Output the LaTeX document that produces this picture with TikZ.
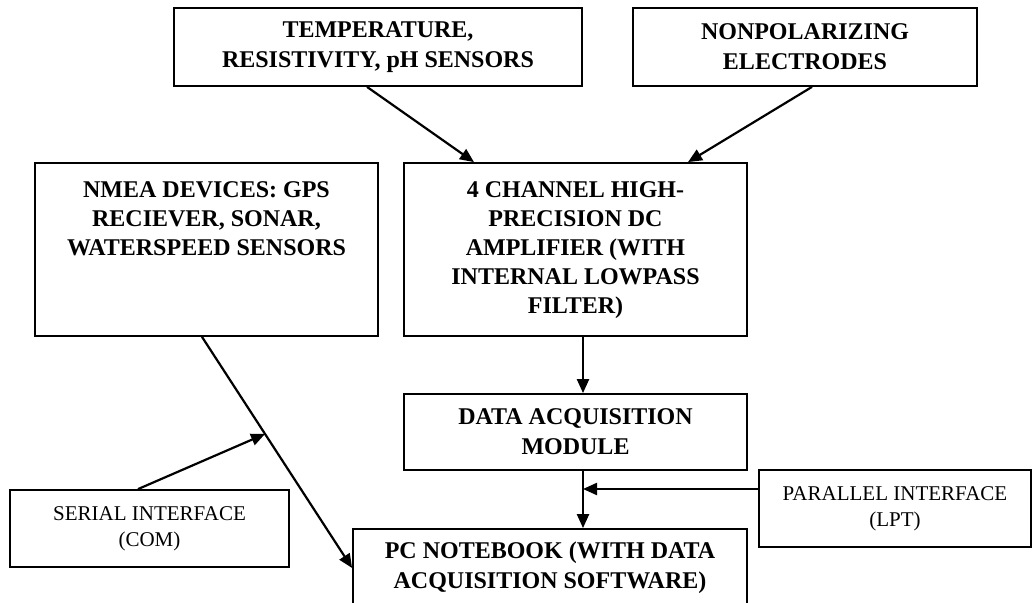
\documentclass[tikz,border=0pt]{standalone}
\usepackage{fontspec}
\setmainfont{Liberation Serif}
\usetikzlibrary{positioning, arrows.meta, calc}

\newcommand{\topalign}[3]{\parbox[c][#2][t]{#1}{\centering\rule{0pt}{17.5pt}#3}}

\begin{document}
\begin{tikzpicture}[x=0.5pt, y=-0.5pt, >={Triangle[length=7pt, width=6pt]},
  block/.style={draw, line width=0.9pt, align=center, inner sep=0pt,
    font=\fontsize{12}{14.4}\selectfont\bfseries},
  wideblock/.style={block, font=\fontsize{12}{15}\selectfont\bfseries},
  iface/.style={draw, line width=0.9pt, align=center, inner sep=0pt,
    font=\fontsize{10.5}{13}\selectfont},
  link/.style={->, line width=1.1pt}]

\useasboundingbox (0, 0) rectangle (1032, 603);

% --- Sensor inputs ---
\node[wideblock, minimum width=204pt, minimum height=39pt] (temp) at (378, 47)
  {TEMPERATURE,\\RESISTIVITY, pH SENSORS};
\node[wideblock, minimum width=172pt, minimum height=39pt] (nonpol) at (805, 47)
  {NONPOLARIZING\\ELECTRODES};

% --- Middle row ---
\node[block] (nmea) at (206.5, 249.5)
  {\topalign{171.5pt}{86.5pt}{NMEA DEVICES: GPS\\RECIEVER, SONAR,\\WATERSPEED SENSORS}};
\node[block] (amp) at (575.5, 249.5)
  {\topalign{171.5pt}{86.5pt}{4 CHANNEL HIGH-\\PRECISION DC\\AMPLIFIER (WITH\\INTERNAL LOWPASS\\FILTER)}};

% --- Acquisition and notebook ---
\node[wideblock, minimum width=171.5pt, minimum height=38pt] (daq) at (575.5, 432)
  {DATA ACQUISITION\\MODULE};
\node[wideblock, minimum width=197pt, minimum height=39pt] (pc) at (550, 568)
  {PC NOTEBOOK (WITH DATA\\ACQUISITION SOFTWARE)};

% --- Interfaces ---
\node[iface, minimum width=139.5pt, minimum height=38.5pt] (serial) at (149.5, 528.5)
  {SERIAL INTERFACE\\(COM)};
\node[iface, minimum width=136pt, minimum height=38.5pt] (parallel) at (895, 508.5)
  {PARALLEL INTERFACE\\(LPT)};

% --- Signal path ---
\draw[link] ([xshift=-5.5pt]temp.south) -- ([xshift=-50.75pt]amp.north);
\draw[link] ([xshift=3.5pt]nonpol.south) -- ([xshift=56.25pt]amp.north);
\draw[link] ([xshift=3.75pt]amp.south) -- ([xshift=3.75pt]daq.north);

\coordinate (daqout) at ([xshift=3.75pt]daq.south);
\coordinate (lptout) at ([yshift=9.75pt]parallel.west);
\draw[link] (daqout) -- (daqout |- pc.north);
\draw[link] (lptout) -- (daqout |- lptout);

% --- NMEA line with serial interface ---
\coordinate (nmeaout) at ([xshift=-2.25pt]nmea.south);
\draw[link] (nmeaout) -- (pc.west);
\coordinate (comjoin) at ($(nmeaout)!0.42!(pc.west)$);
\draw[link] ([xshift=-5.75pt]serial.north) -- (comjoin);

\end{tikzpicture}
\end{document}
